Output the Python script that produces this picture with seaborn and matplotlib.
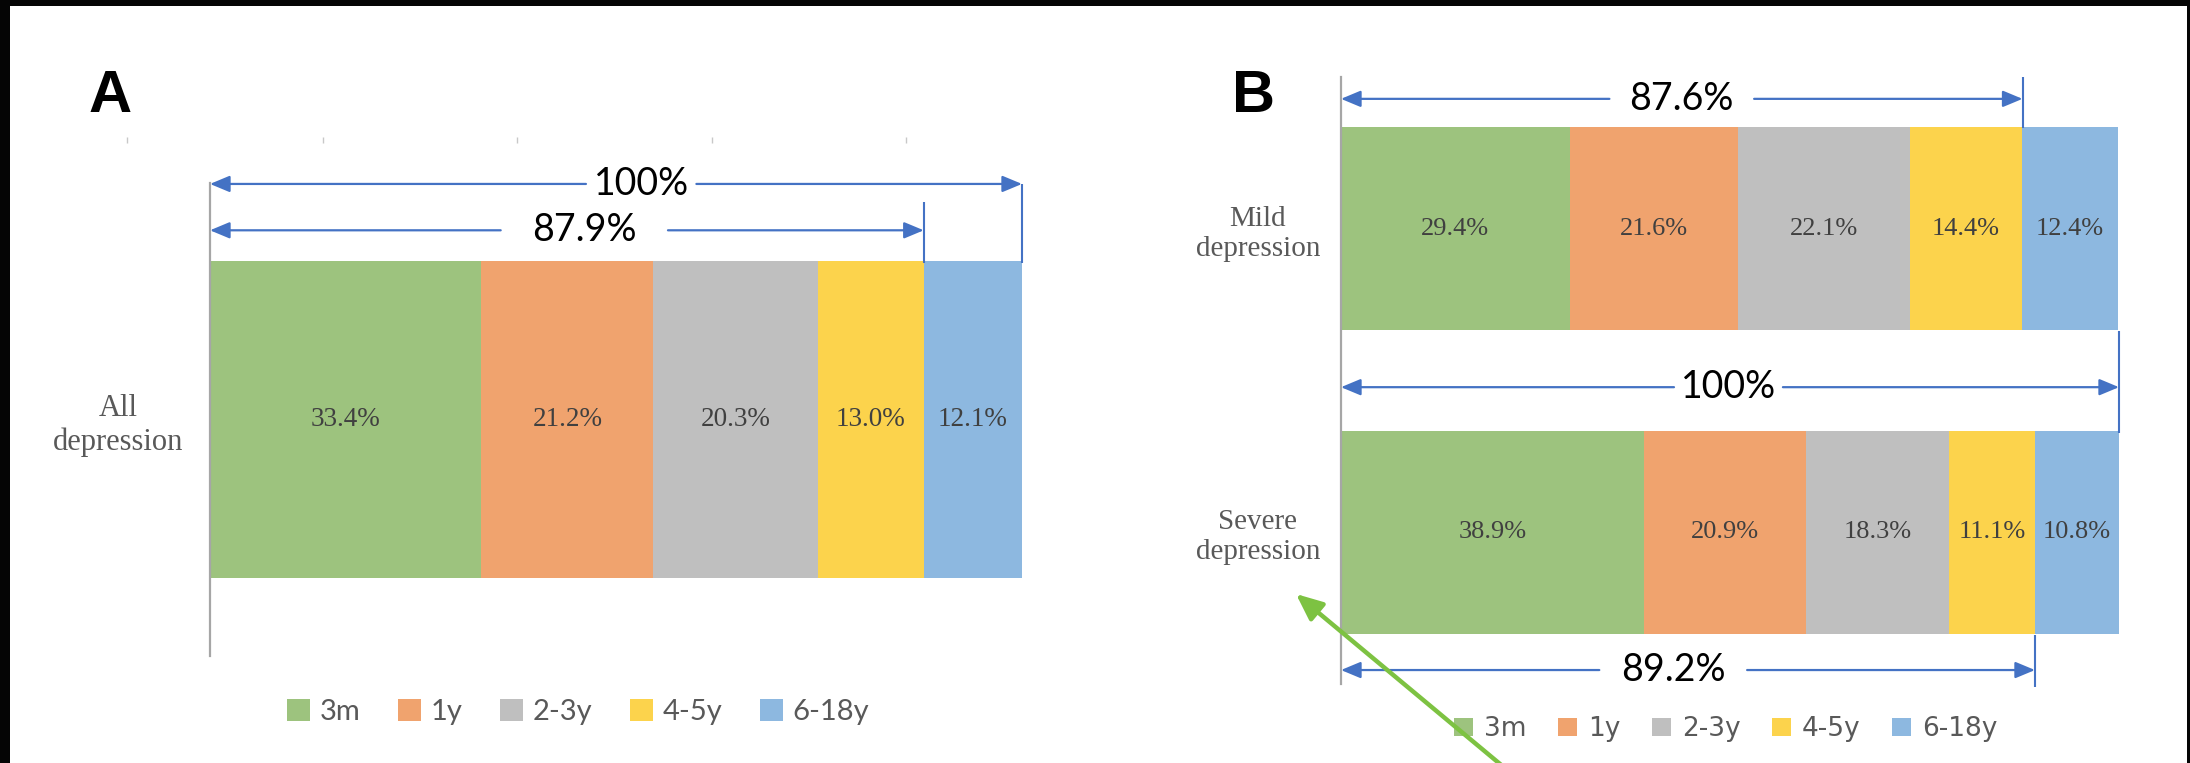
import numpy as np
import matplotlib
matplotlib.use("Agg")
import matplotlib.pyplot as plt
from matplotlib.patches import Patch, Rectangle, FancyArrowPatch
import seaborn as sns

# ---- data -------------------------------------------------------------
age_groups = ["3m", "1y", "2-3y", "4-5y", "6-18y"]
group_colors = ["#9DC37E", "#F0A36E", "#BFBFBF", "#FCD34C", "#8DB8E0"]

all_labels = ["All\ndepression"]
all_shares = [33.4, 21.2, 20.3, 13.0, 12.1]

sev_labels = ["Mild\ndepression", "Severe\ndepression"]
mild_shares = [29.4, 21.6, 22.1, 14.4, 12.4]
severe_shares = [38.9, 20.9, 18.3, 11.1, 10.8]

# cumulative spans marked with dimension arrows
all_total_span = 100.0
all_first4_span = 87.9
mild_first4_span = 87.6
sev_total_span = 100.0
severe_first4_span = 89.2

# ---- styling ----------------------------------------------------------
sns.set_theme(style="white")
plt.rcParams["font.family"] = ["Lato", "DejaVu Sans"]

W, H = 2190, 763
BLUE = "#4472C4"
SPINE = "#A6A6A6"

fig = plt.figure(figsize=(W / 100, H / 100), dpi=100)
fig.patch.set_facecolor("white")


def px_axes(left, top, right, bottom):
    return fig.add_axes([left / W, 1 - bottom / H, (right - left) / W, (bottom - top) / H])


def stacked(ax, cats, rows, label_pad, label_size, value_size):
    shares = np.array(rows, dtype=float)
    cum = shares.cumsum(axis=1)
    # overlay cumulative bars, longest first, so each segment shows its own share
    for j in reversed(range(len(age_groups))):
        sns.barplot(x=cum[:, j], y=cats, orient="h", color=group_colors[j],
                    saturation=1, width=0.67, linewidth=0, errorbar=None, ax=ax)
    for i in range(len(cats)):
        for j in range(len(age_groups)):
            mid = cum[i, j] - shares[i, j] / 2
            ax.text(mid, i, f"{shares[i, j]:.1f}%", ha="center", va="center",
                    fontsize=value_size, family="Liberation Serif", color="#404040")
    ax.set_xlim(0, 100)
    ax.set_ylim(len(cats) - 0.5, -0.5)
    ax.set_xlabel("")
    ax.set_ylabel("")
    ax.set_xticks([])
    for s in ("top", "right", "bottom"):
        ax.spines[s].set_visible(False)
    ax.spines["left"].set_color(SPINE)
    ax.spines["left"].set_linewidth(1.6)
    ax.tick_params(axis="y", length=0, pad=label_pad)
    for lab in ax.get_yticklabels():
        lab.set_multialignment("center")
        lab.set_family("Liberation Serif")
        lab.set_color("#595959")
        lab.set_fontsize(label_size)
    ax.set_facecolor("white")


def dim_arrow(ax, x0, x1, yf, text, tx, half_gap, size=27):
    tr = ax.get_xaxis_transform()
    style = dict(arrowstyle="-|>,head_length=0.6,head_width=0.25", color=BLUE,
                 lw=1.6, shrinkA=0, shrinkB=0, mutation_scale=20)
    ax.annotate("", xy=(x0, yf), xytext=(tx - half_gap, yf), xycoords=tr,
                textcoords=tr, arrowprops=style, annotation_clip=False)
    ax.annotate("", xy=(x1, yf), xytext=(tx + half_gap, yf), xycoords=tr,
                textcoords=tr, arrowprops=style, annotation_clip=False)
    ax.text(tx, yf, text, transform=tr, ha="center", va="center",
            fontsize=size, family="Lato", color="black", clip_on=False)


def ext_line(ax, x, y0, y1):
    tr = ax.get_xaxis_transform()
    ax.plot([x, x], [y0, y1], transform=tr, color=BLUE, lw=1.5,
            clip_on=False, solid_capstyle="butt")


# ---- panel A ----------------------------------------------------------
axA = px_axes(210, 183, 1022, 656)
stacked(axA, all_labels, [all_shares], label_pad=19, label_size=22, value_size=19.5)
trA = axA.get_xaxis_transform()
axA.vlines([-10.2, 13.9, 37.8, 61.8, 85.7], 1.085, 1.097, transform=trA,
           colors="#C8C8C8", lw=1, clip_on=False)
dim_arrow(axA, 0, all_total_span, 0.998, f"{all_total_span:.0f}%", 53.1, 6.8)
dim_arrow(axA, 0, all_first4_span, 0.900, f"{all_first4_span:.1f}%", 46.1, 10.3)
ext_line(axA, all_first4_span, 0.96, 0.831)
ext_line(axA, all_total_span, 0.998, 0.831)

# ---- panel B ----------------------------------------------------------
axB = px_axes(1341, 77, 2119, 684)
stacked(axB, sev_labels, [mild_shares, severe_shares], label_pad=15,
        label_size=21, value_size=19)
dim_arrow(axB, 0, mild_first4_span, 0.964, f"{mild_first4_span:.1f}%", 43.8, 9.3)
dim_arrow(axB, 0, sev_total_span, 0.489, f"{sev_total_span:.0f}%", 49.8, 7.0)
dim_arrow(axB, 0, severe_first4_span, 0.023, f"{severe_first4_span:.1f}%", 42.7, 9.5)
ext_line(axB, mild_first4_span, 1.0, 0.916)
ext_line(axB, sev_total_span, 0.5815, 0.4135)
ext_line(axB, severe_first4_span, 0.081, -0.005)

# ---- panel letters ----------------------------------------------------
fig.text(110 / W, 1 - 97 / H, "A", ha="center", va="center", fontsize=43,
         fontweight="bold", family="Liberation Sans", color="black")
fig.text(1254 / W, 1 - 97 / H, "B", ha="center", va="center", fontsize=43,
         fontweight="bold", family="Liberation Sans", color="black")

# ---- legends ----------------------------------------------------------
handles = [Patch(facecolor=c, edgecolor="none") for c in group_colors]
fig.legend(handles=handles, labels=age_groups, loc="center",
           bbox_to_anchor=(578 / W, 1 - 712 / H), ncol=5, frameon=False,
           prop={"family": "Lato", "size": 21}, labelcolor="#595959",
           handlelength=0.8, handleheight=0.8, handletextpad=0.31,
           columnspacing=1.3)
fig.legend(handles=handles, labels=age_groups, loc="center",
           bbox_to_anchor=(1726 / W, 1 - 729 / H), ncol=5, frameon=False,
           prop={"family": "DejaVu Sans", "size": 19}, labelcolor="#595959",
           handlelength=0.7, handleheight=0.7, handletextpad=0.43,
           columnspacing=1.2)

# ---- pointer arrow ----------------------------------------------------
pointer = FancyArrowPatch(posA=(1508 / W, -0.01), posB=(1296 / W, 1 - 594 / H),
                          transform=fig.transFigure,
                          arrowstyle="-|>,head_length=0.8,head_width=0.35",
                          mutation_scale=20, color="#7DC242", lw=3.2,
                          shrinkA=0, shrinkB=0, zorder=10)
fig.add_artist(pointer)

# ---- dark frame edges -------------------------------------------------
for rect in [(0, 1 - 6 / H, 1, 6 / H), (0, 0, 10 / W, 1), (1 - 3 / W, 0, 3 / W, 1)]:
    fig.add_artist(Rectangle(rect[:2], rect[2], rect[3], transform=fig.transFigure,
                             facecolor="#050505", edgecolor="none", zorder=20))

fig.savefig("out.png", dpi=100, facecolor="white")
